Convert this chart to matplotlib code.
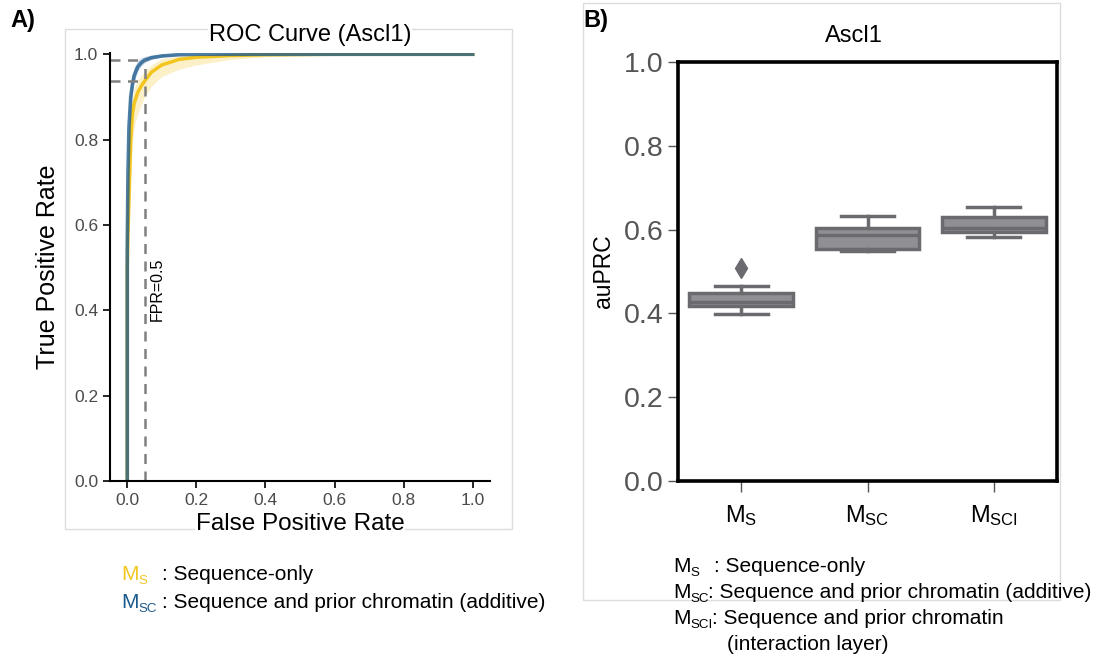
import numpy as np
import matplotlib
matplotlib.use("Agg")
import matplotlib.pyplot as plt
from matplotlib.patches import Rectangle

plt.rcParams['font.family'] = ['Liberation Sans', 'DejaVu Sans']
plt.rcParams['mathtext.fontset'] = 'custom'
plt.rcParams['mathtext.rm'] = 'Liberation Sans'

# ROC curves (mean and spread over folds)
fpr = [0, 0, 0.002, 0.005, 0.01, 0.015, 0.02, 0.03, 0.04, 0.05, 0.07,
       0.1, 0.15, 0.2, 0.3, 0.4, 0.6, 0.8, 1.0]
tpr_s = [0, 0.5, 0.58, 0.66, 0.8, 0.86, 0.885, 0.91, 0.925, 0.937, 0.958,
         0.975, 0.988, 0.993, 0.997, 0.999, 1.0, 1.0, 1.0]
tpr_s_lo = [0, 0.45, 0.52, 0.6, 0.72, 0.79, 0.83, 0.86, 0.88, 0.9, 0.925,
            0.948, 0.965, 0.975, 0.988, 0.994, 0.998, 1.0, 1.0]
tpr_s_hi = [0, 0.55, 0.64, 0.72, 0.86, 0.9, 0.92, 0.94, 0.95, 0.96, 0.975,
            0.99, 0.996, 0.998, 1.0, 1.0, 1.0, 1.0, 1.0]
tpr_sc = [0, 0.55, 0.72, 0.83, 0.9, 0.93, 0.95, 0.97, 0.98, 0.986, 0.992,
          0.996, 0.999, 1.0, 1.0, 1.0, 1.0, 1.0, 1.0]
tpr_sc_lo = [0, 0.5, 0.66, 0.78, 0.87, 0.91, 0.935, 0.96, 0.972, 0.98, 0.988,
             0.994, 0.998, 1.0, 1.0, 1.0, 1.0, 1.0, 1.0]
tpr_sc_hi = [0, 0.6, 0.78, 0.88, 0.93, 0.955, 0.97, 0.985, 0.992, 0.995, 0.998,
             1.0, 1.0, 1.0, 1.0, 1.0, 1.0, 1.0, 1.0]

fpr_cut = 0.05
tpr_cut_s = 0.937
tpr_cut_sc = 0.986

# auPRC box summaries
models = ['$\\mathregular{M_S}$', '$\\mathregular{M_{SC}}$', '$\\mathregular{M_{SCI}}$']
whis_lo = [0.399, 0.548, 0.583]
q1 = [0.418, 0.554, 0.595]
med = [0.428, 0.586, 0.605]
q3 = [0.448, 0.603, 0.629]
whis_hi = [0.465, 0.633, 0.655]
outliers = [[0.508], [], []]

yellow = '#f2c61f'
blue = '#1b5a8c'

fig = plt.figure(figsize=(11.17, 6.6), dpi=100)
W, H = 1117, 660

def fx(px):
    return px / W

def fy(py):
    return 1 - py / H

def model_tag(x, y, sub, color='black', fs=15):
    # "M" with a small, lowered subscript
    fig.text(fx(x), fy(y), 'M', color=color, fontsize=fs, va='center')
    fig.text(fx(x + 17.5), fy(y + 6), sub, color=color, fontsize=fs * 0.64, va='center')

# light panel frames, drawn beneath everything else
for x0, y0, x1, y1 in [(65, 29, 512, 529), (583, 3, 1060, 600)]:
    fig.patches.append(Rectangle((fx(x0), fy(y1)), fx(x1 - x0), (y1 - y0) / H,
                                 transform=fig.transFigure, fill=False,
                                 edgecolor='#dcdcdc', lw=1, zorder=-5))

white_box = dict(facecolor='white', edgecolor='none', pad=0.5)

# ---- panel A: ROC ----
ax = fig.add_axes([fx(110), fy(481), fx(490 - 110), (481 - 53) / H])
ax.fill_between(fpr, tpr_s_lo, tpr_s_hi, color='#fbe7a6', alpha=0.6, lw=0)
ax.plot(fpr, tpr_s, color=yellow, lw=2.5)
ax.fill_between(fpr, tpr_sc_lo, tpr_sc_hi, color='#9aaed6', alpha=0.5, lw=0)
ax.plot(fpr, tpr_sc, color=blue, lw=2.6, alpha=0.78)

ax.plot([fpr_cut, fpr_cut], [0, tpr_cut_sc], ls=(0, (4, 3)), color='#808080', lw=1.8)
ax.plot([-0.05, fpr_cut], [tpr_cut_sc, tpr_cut_sc], ls=(0, (4, 3)), color='#808080', lw=1.8)
ax.plot([-0.05, fpr_cut], [tpr_cut_s, tpr_cut_s], ls=(0, (4, 3)), color='#808080', lw=1.8)
ax.text(0.087, 0.45, 'FPR=0.5', rotation=90, ha='center', va='center', fontsize=11.5)

ax.set_xlim(-0.05, 1.05)
ax.set_ylim(0, 1.003)
ax.set_xticks(np.arange(0, 1.01, 0.2))
ax.set_yticks(np.arange(0, 1.01, 0.2))
ax.set_xticklabels(['%.1f' % v for v in np.arange(0, 1.01, 0.2)])
ax.set_yticklabels(['%.1f' % v for v in np.arange(0, 1.01, 0.2)])
ax.tick_params(labelsize=12.5, labelcolor='#4a4a4a', length=5, width=1.2)
for s in ['top', 'right']:
    ax.spines[s].set_visible(False)
for s in ['left', 'bottom']:
    ax.spines[s].set_linewidth(1.5)
ax.set_xlabel('False Positive Rate', fontsize=17.5, labelpad=4, bbox=white_box)
ax.set_ylabel('True Positive Rate', fontsize=18, labelpad=10)
ax.set_title('ROC Curve (Ascl1)', fontsize=17, x=0.526, pad=9, bbox=white_box)

# ---- panel B: auPRC boxes ----
bx = fig.add_axes([fx(678), fy(481), fx(1057 - 678), (481 - 62) / H])
stats = []
for i in range(len(models)):
    stats.append(dict(med=med[i], q1=q1[i], q3=q3[i], whislo=whis_lo[i],
                      whishi=whis_hi[i], fliers=outliers[i]))
edge = '#6b6b6f'
bx.bxp(stats, positions=range(len(models)), widths=0.82, patch_artist=True,
       boxprops=dict(facecolor='#909094', edgecolor=edge, lw=2.5),
       medianprops=dict(color=edge, lw=2.5),
       whiskerprops=dict(color=edge, lw=2.5),
       capprops=dict(color=edge, lw=2.5),
       flierprops=dict(marker='d', markerfacecolor=edge, markeredgecolor=edge,
                       markersize=10),
       capwidths=0.42)
bx.set_xlim(-0.5, 2.5)
bx.set_ylim(0, 1.0)
bx.set_xticks(range(len(models)))
bx.set_xticklabels(models, fontsize=17)
bx.set_yticks(np.arange(0, 1.01, 0.2))
bx.set_yticklabels(['%.1f' % v for v in np.arange(0, 1.01, 0.2)])
bx.tick_params(axis='y', labelsize=20.5, labelcolor='#555555', color='#555555',
               length=7, width=1)
bx.tick_params(axis='x', color='#555555', length=8, width=1, pad=8)
for s in bx.spines.values():
    s.set_linewidth(2.6)
bx.set_ylabel('auPRC', fontsize=16.5, labelpad=6)
bx.text(0.464, 1.035, 'Ascl1', transform=bx.transAxes, ha='center',
        va='bottom', fontsize=17)

# panel letters
fig.text(fx(10), fy(20), 'A)', fontsize=17, fontweight='bold', va='center')
fig.text(fx(583), fy(20), 'B)', fontsize=17, fontweight='bold', va='center')

# model key under panel A
fs = 15
model_tag(121, 575, 'S', yellow)
fig.text(fx(162), fy(575), ': Sequence-only', fontsize=fs, va='center')
model_tag(121, 603, 'SC', blue)
fig.text(fx(162), fy(603), ': Sequence and prior chromatin (additive)', fontsize=fs, va='center')

# model key under panel B
model_tag(673, 567, 'S')
fig.text(fx(714), fy(567), ': Sequence-only', fontsize=fs, va='center')
model_tag(673, 593, 'SC')
fig.text(fx(708), fy(593), ': Sequence and prior chromatin (additive)', fontsize=fs, va='center')
model_tag(673, 619, 'SCI')
fig.text(fx(712), fy(619), ': Sequence and prior chromatin', fontsize=fs, va='center')
fig.text(fx(727), fy(645), '(interaction layer)', fontsize=fs, va='center')

fig.savefig('out.png', dpi=100)
